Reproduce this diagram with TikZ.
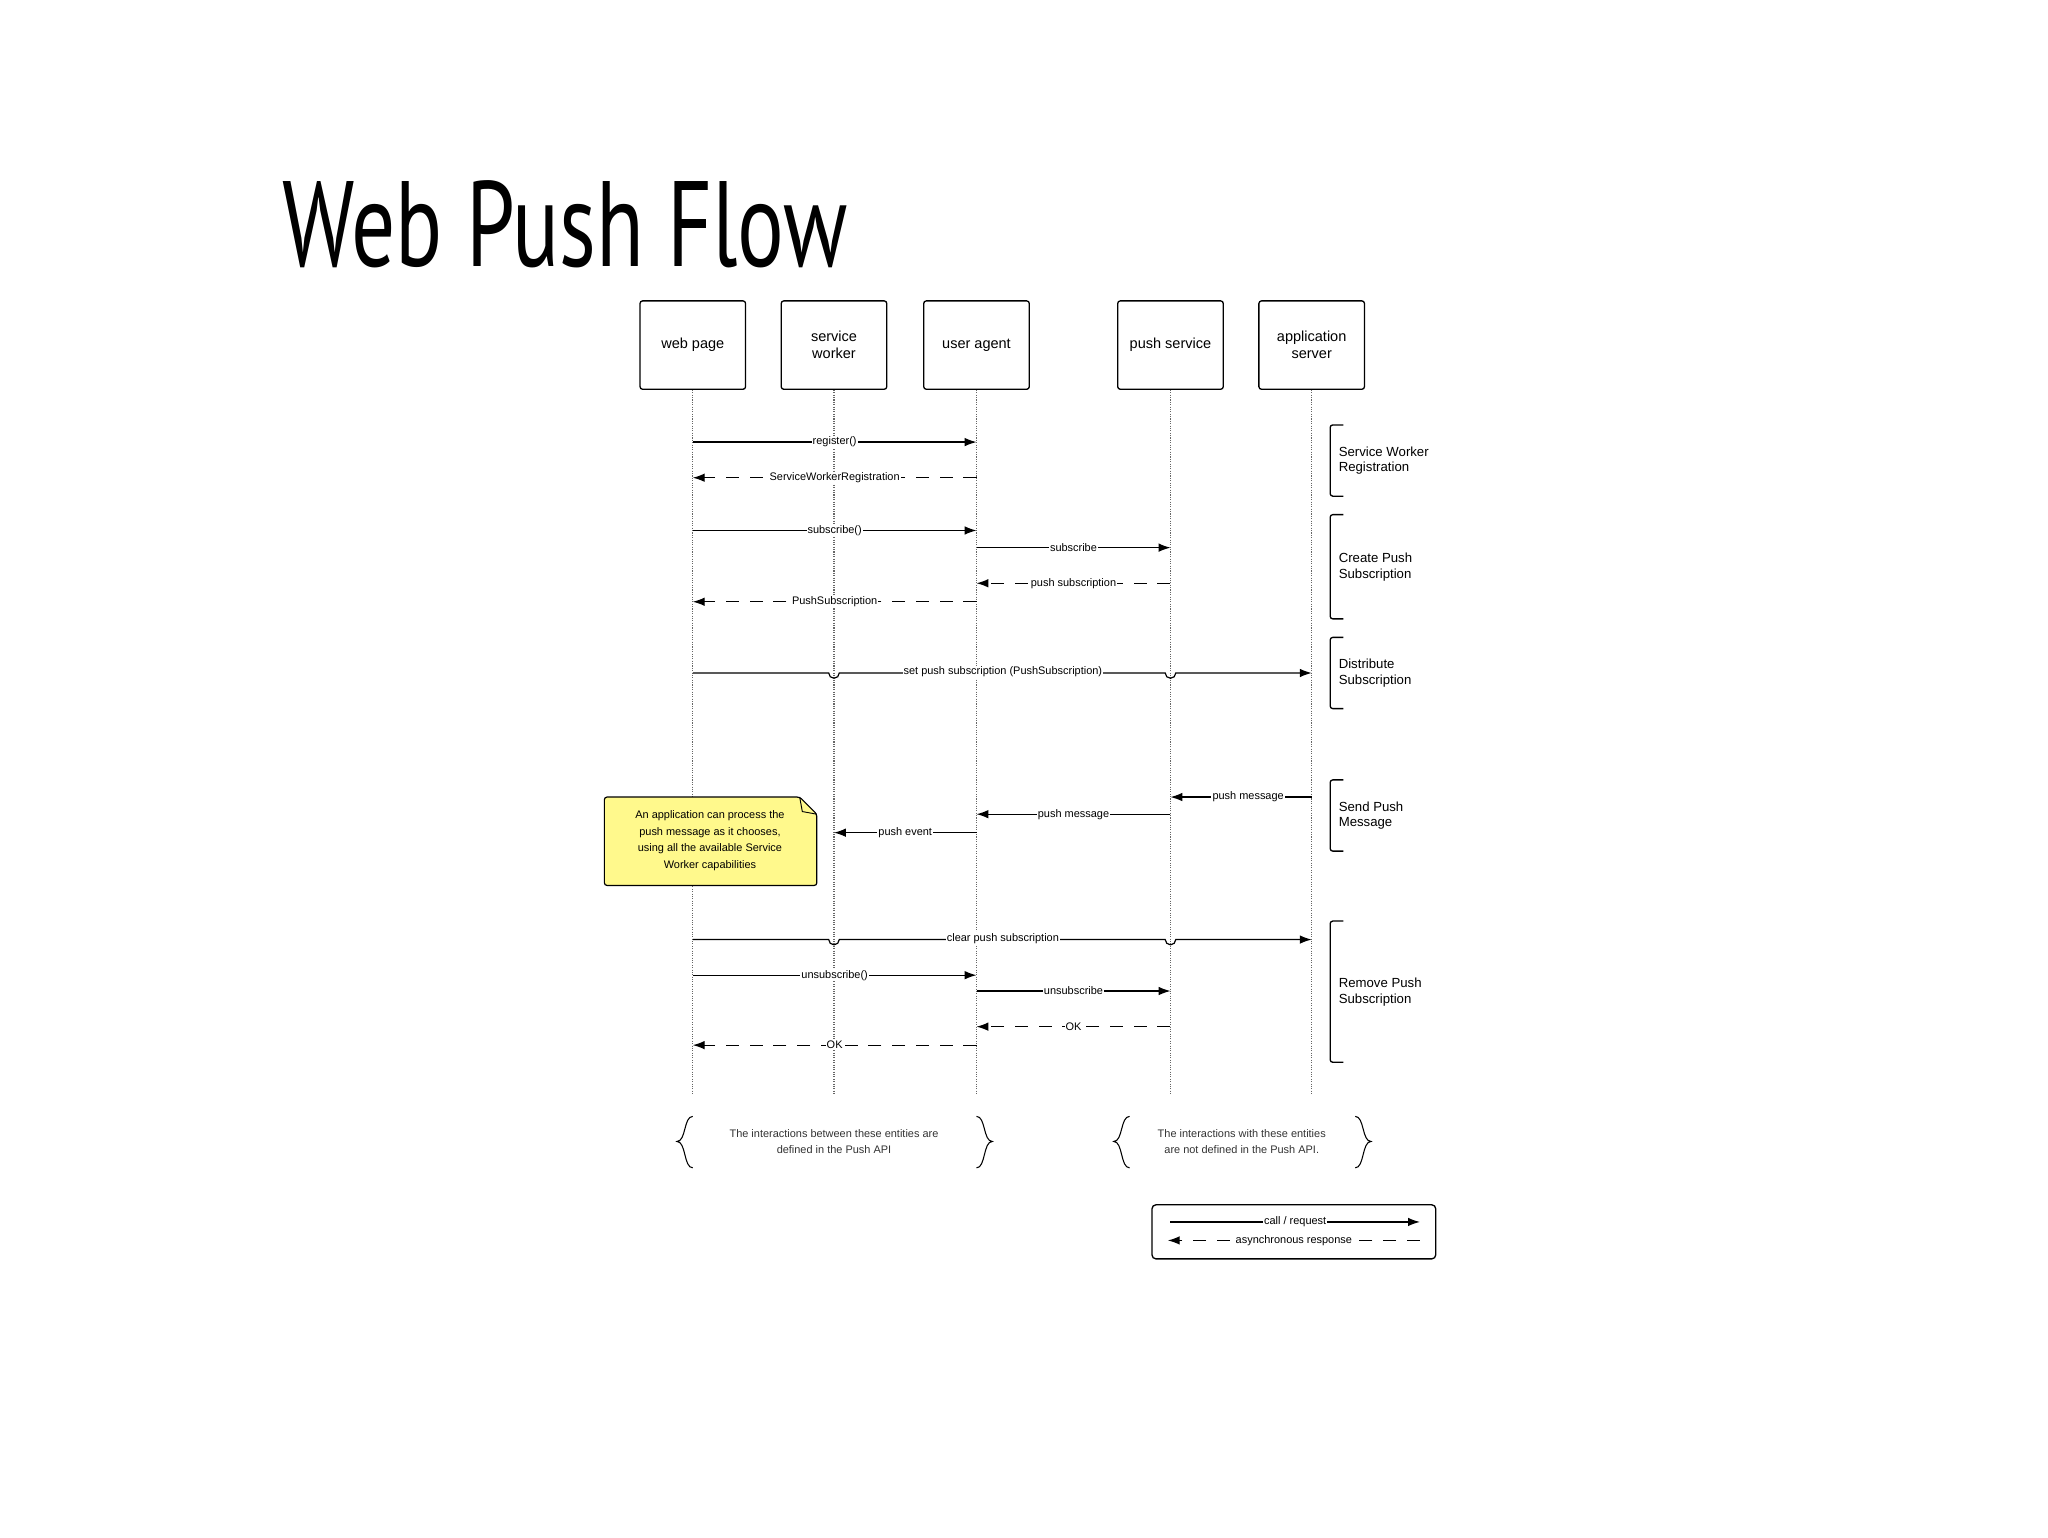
\documentclass[tikz,border=0pt]{standalone}
\usepackage{fontspec}
\setmainfont{Liberation Sans}
\newfontfamily\titlefont{PT Sans}
\usetikzlibrary{arrows.meta,shapes.misc,calc}
\begin{document}
\begin{tikzpicture}[x=1pt,y=-1pt,
  box/.style={draw,line width=1pt,rounded corners=2pt,minimum width=80pt,minimum height=67pt,align=center,font=\fontsize{11}{13}\selectfont},
  life/.style={densely dotted,gray!80!black,line width=0.8pt},
  msg/.style={line width=0.9pt,-{Latex[length=9pt,width=6.5pt]}},
  rsp/.style={msg,dash pattern=on 10pt off 8pt},
  lbl/.style={fill=white,inner sep=0.8pt,font=\fontsize{8.3}{10}\selectfont},
  brk/.style={line width=1pt},
  grp/.style={anchor=west,align=left,font=\fontsize{10}{12}\selectfont}]
\useasboundingbox (0,0) rectangle (1552,1165);
\fill[white] (0,0) rectangle (1552,1165);
\node[anchor=west,inner sep=0] (title) at (214,170) {\scalebox{0.72}[1]{\titlefont\fontsize{92}{100}\selectfont Web Push Flow}};
\def\wp{525}\def\sw{632}\def\ua{740}\def\ps{887}\def\as{994}
\node[box] (bwp) at (\wp,261.5) {web page};
\node[box] (bsw) at (\sw,261.5) {service\\worker};
\node[box] (bua) at (\ua,261.5) {user agent};
\node[box] (bps) at (\ps,261.5) {push service};
\node[box] (bas) at (\as,261.5) {application\\server};
\foreach \n/\x in {wp/\wp,sw/\sw,ua/\ua,ps/\ps,as/\as}{
  \coordinate (e\n) at (\x,830);
  \draw[life] (b\n.south) -- (e\n);}
% messages
\draw[msg] (\wp,335) -- node[lbl]{register()} (\ua,335);
\draw[rsp] (\ua,362) -- node[lbl]{ServiceWorkerRegistration} (\wp,362);
\draw[msg] (\wp,402) -- node[lbl]{subscribe()} (\ua,402);
\draw[msg] (\ua,415) -- node[lbl]{subscribe} (\ps,415);
\draw[rsp] (\ps,442) -- node[lbl]{push subscription} (\ua,442);
\draw[rsp] (\ua,456) -- node[lbl]{PushSubscription} (\wp,456);
\draw[msg] (\wp,510) -- (\sw-4,510) arc (180:0:4) -- (\ps-4,510) arc (180:0:4) -- (\as,510);
\node[lbl] at (760,509) {set push subscription (PushSubscription)};
\draw[msg] (\as,604) -- node[lbl,pos=0.45]{push message} (\ps,604);
\draw[msg] (\ps,617) -- node[lbl]{push message} (\ua,617);
\draw[msg] (\ua,631) -- node[lbl]{push event} (\sw,631);
\draw[msg] (\wp,712) -- (\sw-4,712) arc (180:0:4) -- (\ps-4,712) arc (180:0:4) -- (\as,712);
\node[lbl] at (760,711) {clear push subscription};
\draw[msg] (\wp,739) -- node[lbl]{unsubscribe()} (\ua,739);
\draw[msg] (\ua,751) -- node[lbl]{unsubscribe} (\ps,751);
\draw[rsp] (\ps,778) -- node[lbl]{OK} (\ua,778);
\draw[rsp] (\ua,792) -- node[lbl]{OK} (\wp,792);
% note
\draw[line width=0.9pt,fill=yellow!45!white,rounded corners=2pt] (458,604) -- (606,604) -- (619,617) -- (619,671) -- (458,671) -- cycle;
\draw[line width=0.7pt] (606,604) -- (608,615) -- (619,617);
\node[align=center,font=\fontsize{8.3}{12.5}\selectfont] (note) at (538,637) {An application can process the\\push message as it chooses,\\using all the available Service\\Worker capabilities};
% group brackets
\foreach \a/\b/\t in {322/376/{Service Worker\\Registration},390/469/{Create Push\\Subscription},483/537/{Distribute\\Subscription},591/645/{Send Push\\Message},698/805/{Remove Push\\Subscription}}{
  \draw[brk,rounded corners=2pt] (1018,\a) -- (1008,\a) -- (1008,\b) -- (1018,\b);
  \node[grp] at (1011,{(\a+\b)/2}) {\t};}
% braces
\draw[line width=0.8pt] (525,846) .. controls (518,846) and (520,865) .. (513,865) .. controls (520,865) and (518,885) .. (525,885);
\draw[line width=0.8pt] (740,846) .. controls (747,846) and (745,865) .. (752,865) .. controls (745,865) and (747,885) .. (740,885);
\node[align=center,font=\fontsize{8.3}{12.5}\selectfont,text=black!80] (n1) at (632,865) {The interactions between these entities are\\defined in the Push API};
\draw[line width=0.8pt] (856,846) .. controls (849,846) and (851,865) .. (844,865) .. controls (851,865) and (849,885) .. (856,885);
\draw[line width=0.8pt] (1027,846) .. controls (1034,846) and (1032,865) .. (1039,865) .. controls (1032,865) and (1034,885) .. (1027,885);
\node[align=center,font=\fontsize{8.3}{12.5}\selectfont,text=black!80] (n2) at (941,865) {The interactions with these entities\\are not defined in the Push API.};
% legend
\draw[line width=1pt,rounded corners=3pt] (873,913) rectangle (1088,954);
\coordinate (l1a) at (887,926); \coordinate (l1b) at (1076,926);
\coordinate (l2a) at (1076,940); \coordinate (l2b) at (885,940);
\draw[msg] (l1a) -- node[lbl]{call / request} (l1b);
\draw[rsp] (l2a) -- node[lbl]{asynchronous response} (l2b);
\end{tikzpicture}
\end{document}
